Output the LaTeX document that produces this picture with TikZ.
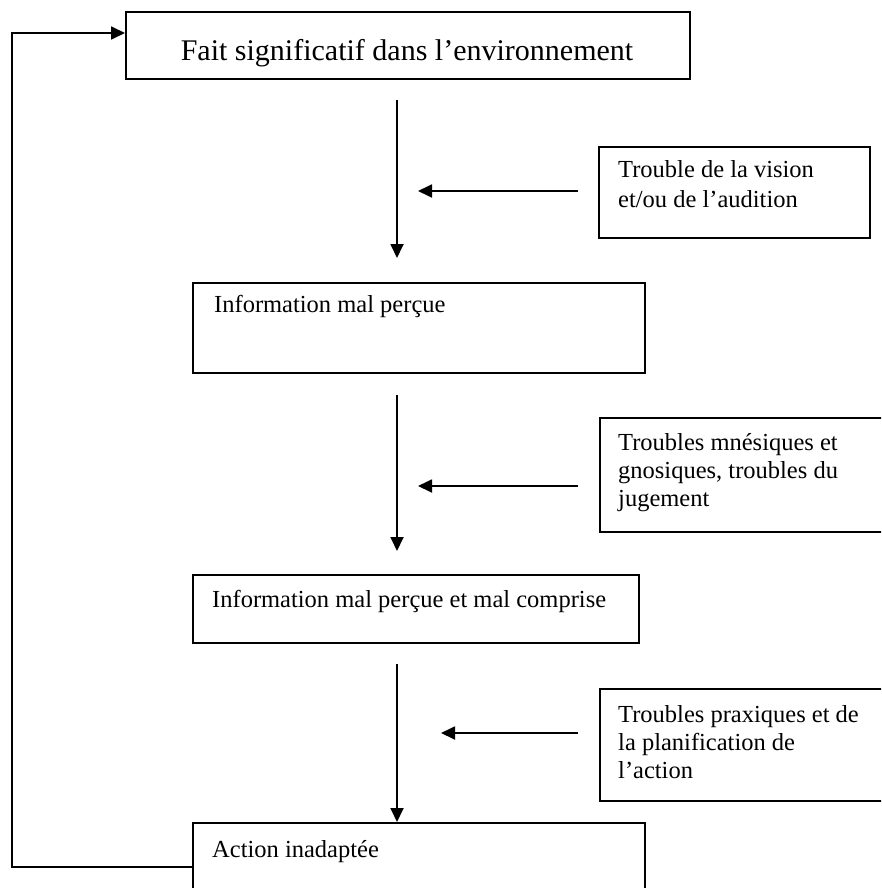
\documentclass[tikz,border=0pt]{standalone}
\usepackage{fontspec}
\setmainfont{Liberation Serif}
\usetikzlibrary{arrows.meta}
\begin{document}
\begin{tikzpicture}[x=1pt,y=-1pt,
  box/.style={draw=black,line width=1.8pt,rectangle,inner sep=0pt,anchor=north west},
  lbl/.style={inner sep=0pt,align=left,anchor=north west,font=\fontsize{24.5pt}{28pt}\selectfont},
  arr/.style={line width=1.8pt,-{Triangle[length=14pt,width=13pt]}}]
\useasboundingbox (0,0) rectangle (881,888);
\begin{scope}
\clip (0,0) rectangle (881,888);
% main boxes
\node[box,minimum width=564pt,minimum height=67pt] (top) at (125,11) {};
\node[box,minimum width=271pt,minimum height=91pt] (vis) at (598,146) {};
\node[box,minimum width=452pt,minimum height=90pt] (info1) at (192,282) {};
\node[box,minimum width=300pt,minimum height=114pt] (mne) at (599,417) {};
\node[box,minimum width=446pt,minimum height=68pt] (info2) at (192,574) {};
\node[box,minimum width=300pt,minimum height=112pt] (pra) at (599,688) {};
\node[box,minimum width=452pt,minimum height=90pt] (act) at (192,822) {};
\end{scope}
% texts
\node[inner sep=0pt,anchor=base,font=\fontsize{30pt}{34pt}\selectfont] (ttop) at (407,61) {Fait significatif dans l’environnement};
\node[lbl] (tvis) at (618,160) {Trouble de la vision\\[2pt]et/ou de l’audition};
\node[lbl,anchor=base west] (tinfo1) at (214,312) {Information mal perçue};
\node[lbl] (tmne) at (618,433) {Troubles mnésiques et\\gnosiques, troubles du\\jugement};
\node[lbl,anchor=base west] (tinfo2) at (212,607) {Information mal perçue et mal comprise};
\node[lbl] (tpra) at (618,705) {Troubles praxiques et de\\la planification de\\l’action};
\node[lbl,anchor=base west] (tact) at (212,857) {Action inadaptée};
% connector end points
\coordinate (a1s) at (397,100); \coordinate (a1e) at (397,258);
\coordinate (h1s) at (578,191); \coordinate (h1e) at (418,191);
\coordinate (a2s) at (397,395); \coordinate (a2e) at (397,551);
\coordinate (h2s) at (578,486); \coordinate (h2e) at (418,486);
\coordinate (a3s) at (397,664);
\coordinate (h3s) at (578,733); \coordinate (h3e) at (441,733);
\coordinate (fb1) at (12,867); \coordinate (fb2) at (12,33);
% connectors
\draw[arr] (a1s) -- (a1e);
\draw[arr] (h1s) -- (h1e);
\draw[arr] (a2s) -- (a2e);
\draw[arr] (h2s) -- (h2e);
\draw[arr] (a3s) -- (a3s |- act.north);
\draw[arr] (h3s) -- (h3e);
\draw[arr] (fb1 -| act.west) -- (fb1) -- (fb2) -- (fb2 -| top.west);
\end{tikzpicture}
\end{document}
